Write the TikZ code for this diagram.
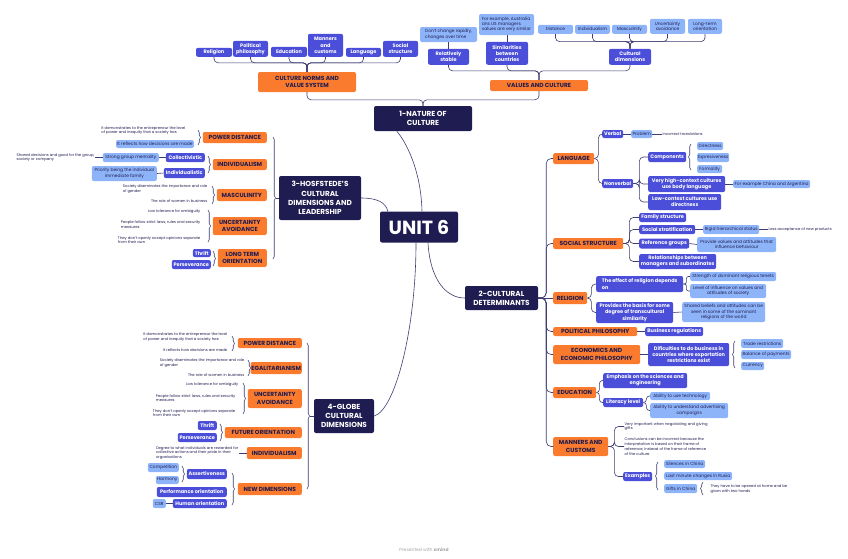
\documentclass[tikz,border=0pt]{standalone}
\usepackage{fontspec}
\setmainfont{Poppins}
\usetikzlibrary{decorations.pathreplacing}
\definecolor{navy}{HTML}{1E1C50}
\definecolor{orng}{HTML}{FA7A2E}
\definecolor{blu}{HTML}{4A4ED8}
\definecolor{lblu}{HTML}{8DB3F8}
\definecolor{lnk}{HTML}{3E3C70}
\begin{document}
\begin{tikzpicture}[x=1pt,y=-1pt,
  base/.style={rounded corners=2pt, inner sep=0.8pt, align=center},
  mainn/.style={base, fill=navy, text=white, font=\bfseries\fontsize{7.3}{9.2}\selectfont},
  unitn/.style={base, fill=navy, text=white, font=\bfseries\fontsize{19}{20}\selectfont},
  orn/.style={base, fill=orng, text=navy, font=\bfseries\fontsize{5.9}{7.2}\selectfont},
  bl/.style={base, fill=blu, text=white, font=\bfseries\fontsize{5}{6.2}\selectfont},
  lb/.style={base, fill=lblu, text=navy, font=\fontsize{4.4}{5.3}\selectfont},
  ptx/.style={inner sep=0.5pt, align=left, text=navy, font=\fontsize{3.75}{4.8}\selectfont},
  mw/.style={minimum width=#1pt}, mh/.style={minimum height=#1pt},
  conn/.style={draw=lnk, line width=0.6pt, rounded corners=4pt},
  brc/.style={draw=lnk, line width=0.6pt, decorate, decoration={brace, amplitude=2.5pt}},
]
\fill[white] (0,0) rectangle (848,558);
\useasboundingbox (0,0) rectangle (848,558);

% ---------- main topics ----------
\node[unitn, mw=78, mh=31] (unit) at (419,227) {UNIT 6};
\node[mainn, mw=98, mh=25] (nat) at (423,118.5) {1-NATURE OF\\CULTURE};
\node[mainn, mw=82, mh=44] (hof) at (320,198) {3-HOSFSTEDE’S\\CULTURAL\\DIMENSIONS AND\\LEADERSHIP};
\node[mainn, mw=73, mh=24] (det) at (501.5,298) {2-CULTURAL\\DETERMINANTS};
\node[mainn, mw=60, mh=34] (glo) at (344,416) {4-GLOBE\\CULTURAL\\DIMENSIONS};

\draw[conn] ([xshift=3pt]unit.north) .. controls (421,170) and (406,142) .. ([xshift=23pt]nat.south west);
\draw[conn] (hof.east) .. controls (378,198) and (386,203) .. ([xshift=8pt]unit.north west);
\draw[conn] ([xshift=9pt]unit.south) .. controls (430,278) and (445,298) .. (det.west);
\draw[conn] ([xshift=-3pt]unit.south) .. controls (416,330) and (395,410) .. (glo.east);

% ---------- top: nature of culture ----------
\node[orn, mw=98, mh=20] (cnv) at (307,82) {CULTURE NORMS AND\\VALUE SYSTEM};
\node[orn, mw=98, mh=11] (vac) at (539,85.5) {VALUES AND CULTURE};
\draw[conn] (nat.north) -- ++(0,-6) -| (cnv.south);
\draw[conn] (nat.north) -- ++(0,-6) -| (vac.south);

\node[bl, mw=36, mh=9, anchor=south] (rel1) at (214,57) {Religion};
\node[bl, mw=35, mh=16, anchor=south] (pol1) at (250.5,57) {Political\\philosophy};
\node[bl, mw=36, mh=10, anchor=south] (edu1) at (289,57) {Education};
\node[bl, mw=35, mh=23, anchor=south] (man1) at (325.5,57) {Manners\\and\\customs};
\node[bl, mw=35, mh=9, anchor=south] (lan1) at (363.5,57) {Language};
\node[bl, mw=35, mh=16, anchor=south] (soc1) at (400.5,57) {Social\\structure};
\foreach \c in {rel1,pol1,edu1,man1,lan1,soc1}
  \draw[conn] (cnv.north) -- ++(0,-9) -| (\c.south);

\node[bl, mw=41, mh=16, anchor=south] (rst) at (448.5,65) {Relatively\\stable};
\node[bl, mw=42, mh=23, anchor=south] (sbc) at (507,65) {Similarities\\between\\countries};
\node[bl, mw=42, mh=16, anchor=south] (cdm) at (630,65) {Cultural\\dimensions};
\foreach \c in {rst,sbc,cdm}
  \draw[conn] (vac.north) -- ++(0,-9) -| (\c.south);
\node[lb, mw=57, mh=15, align=left] (dcr) at (448.5,34.5) {Don't change rapidly,\\changes over time};
\node[lb, mw=55, mh=21, align=left] (fex) at (506.5,24.5) {For example, Australia\\ans US managers\\values are very similar};
\draw[conn] (rst.north) -- (dcr.south);
\draw[conn] (sbc.north) -- (sbc.north |- fex.south);

\node[lb, mw=35, mh=9, anchor=south] (dis) at (555.5,34) {Distance};
\node[lb, mw=35, mh=9, anchor=south] (ind0) at (592.5,34) {Individualism};
\node[lb, mw=35, mh=9, anchor=south] (mas0) at (629.5,34) {Masculinity};
\node[lb, mw=35, mh=15, anchor=south] (unc0) at (667.5,34) {Uncertainty\\avoidance};
\node[lb, mw=34, mh=15, anchor=south] (lto0) at (705,34) {Long-term\\orientation};
\foreach \c in {dis,ind0,mas0,unc0,lto0}
  \draw[conn] (cdm.north) -- ++(0,-7) -| (\c.south);

% ---------- left: Hofstede ----------
\node[orn, mw=64, mh=11, anchor=east] (pd) at (267,137.5) {POWER DISTANCE};
\node[orn, mw=54, mh=11, anchor=east] (ind) at (267,164.5) {INDIVIDUALISM};
\node[orn, mw=50, mh=12, anchor=east] (mas) at (267,195) {MASCULINITY};
\node[orn, mw=54, mh=18, anchor=east] (ua) at (267,226) {UNCERTAINTY\\AVOIDANCE};
\node[orn, mw=49, mh=18, anchor=east] (lto) at (267,258) {LONG TERM\\ORIENTATION};
\draw[brc] (273,137) -- (273,259);
\draw[conn] (275.5,198) -- (hof.west);

\node[ptx, anchor=east] (pdt1) at (186,130.5) {It demonstrates to the entrepreneur the level\\of power and inequity that a society has};
\node[lb, mw=78, mh=8] (pdt2) at (155,144) {It reflects how decisions are made};
\draw[brc] (198,130) -- (198,145);

\node[bl, mw=39, mh=9, anchor=east] (col) at (205,157.5) {Collectivistic};
\node[bl, mw=41, mh=10, anchor=east] (indv) at (205,173) {Individualistic};
\draw[brc] (208,156) -- (208,173);
\node[lb, mw=56, mh=9, anchor=east] (sgm) at (159,157.5) {Strong group mentality};
\node[ptx, anchor=east] (sgt) at (95,157.5) {Shared decisions and good for the group,\\society or company};
\node[lb, mw=65, mh=15, anchor=east] (pri) at (157,173.5) {Priority being the individual\\immediate family};
\draw[conn] (col.west) -- (sgm.east);
\draw[conn] (sgm.west) -- (sgt.east);
\draw[conn] (indv.west) -- (pri.east);

\node[ptx, anchor=east] (mt1) at (208,189) {Society diseminates the importance and role\\of gender};
\node[ptx, anchor=east] (mt2) at (208,201.5) {The role of women in business};
\draw[brc] (212,186) -- (212,204);

\node[ptx, anchor=east] (ut1) at (201,211.5) {Low tolerance for ambiguity};
\node[ptx, anchor=east] (ut2) at (201,224.5) {People follow strict laws, rules and security\\measures};
\node[ptx, anchor=east] (ut3) at (201,240) {They don't openly accept opinions separate\\from their own};
\draw[brc] (208,210) -- (208,242);

\node[bl, mw=18, mh=8, anchor=east] (thr1) at (211,253) {Thrift};
\node[bl, mw=39, mh=9, anchor=east] (per1) at (211,264.5) {Perseverance};
\draw[brc] (213,251) -- (213,266);

% ---------- left: GLOBE ----------
\node[orn, mw=64, mh=10, anchor=east] (gpd) at (302,343) {POWER DISTANCE};
\node[orn, mw=48, mh=12, anchor=east] (geg) at (302,368) {EGALITARIANISM};
\node[orn, mw=54, mh=19, anchor=east] (gua) at (302,398.5) {UNCERTAINTY\\AVOIDANCE};
\node[orn, mw=77, mh=11, anchor=east] (gfo) at (302,432.5) {FUTURE ORIENTATION};
\node[orn, mw=55, mh=12, anchor=east] (gin) at (302,453) {INDIVIDUALISM};
\node[orn, mw=64, mh=12, anchor=east] (gnd) at (302,489) {NEW DIMENSIONS};
\draw[brc] (307,343) -- (307,489);
\draw[conn] (309.5,416) -- (glo.west);

\node[ptx, anchor=east] (gp1) at (228,337) {It demonstrates to the entrepreneur the level\\of power and inequity that a society has};
\node[ptx, anchor=east] (gp2) at (228,350) {It reflects how decisions are made};
\draw[brc] (232,336) -- (232,351);

\node[ptx, anchor=east] (ge1) at (245,363) {Society diseminates the importance and role\\of gender};
\node[ptx, anchor=east] (ge2) at (245,375) {The role of women in business};
\draw[brc] (248,360) -- (248,376);

\node[ptx, anchor=east] (gu1) at (239,385) {Low tolerance for ambiguity};
\node[ptx, anchor=east] (gu2) at (236,398) {People follow strict laws, rules and security\\measures};
\node[ptx, anchor=east] (gu3) at (236,413) {They don't openly accept opinions separate\\from their own};
\draw[brc] (243,383) -- (243,414);

\node[bl, mw=19, mh=9, anchor=east] (thr2) at (217,425.5) {Thrift};
\node[bl, mw=39, mh=9, anchor=east] (per2) at (217,437.5) {Perseverance};
\draw[brc] (220,424) -- (220,441);

\node[ptx, anchor=east] (git) at (239,453) {Degree to what individuals are rewarded for\\collective actions and their pride in their\\organisations};
\draw[conn] (gin.west) -- (git.east);

\node[bl, mw=40, mh=10, anchor=east] (ass) at (227,474) {Assertiveness};
\node[bl, mw=70, mh=10, anchor=east] (pfo) at (227,492) {Performance orientation};
\node[bl, mw=54, mh=9, anchor=east] (hum) at (227,503.5) {Human orientation};
\draw[brc] (232,473) -- (232,505);
\node[lb, mw=31, mh=9, anchor=east] (cmp) at (179,467.5) {Competition};
\node[lb, mw=23, mh=8, anchor=east] (har) at (179,480) {Harmony};
\draw[brc] (182,466) -- (182,482);
\node[lb, mw=13, mh=9, anchor=east] (csr) at (166,503.5) {CSR};
\draw[conn] (hum.west) -- (csr.east);

% ---------- right: cultural determinants ----------
\node[orn, mw=41, mh=11, anchor=west] (lan) at (553,158.5) {LANGUAGE};
\node[orn, mw=70, mh=11, anchor=west] (soc) at (553,243.5) {SOCIAL STRUCTURE};
\node[orn, mw=34, mh=12, anchor=west] (rel) at (553,298) {RELIGION};
\node[orn, mw=84, mh=9, anchor=west] (pol) at (553,331.5) {POLITICAL PHILOSOPHY};
\node[orn, mw=87, mh=19, anchor=west] (eco) at (553,354.5) {ECONOMICS AND\\ECONOMIC PHILOSOPHY};
\node[orn, mw=43, mh=11, anchor=west] (edu) at (553,392.5) {EDUCATION};
\node[orn, mw=55, mh=19, anchor=west] (mnc) at (553,446.5) {MANNERS AND\\CUSTOMS};
\foreach \c in {lan,soc,pol,eco,edu,mnc}
  \draw[conn, rounded corners=5pt] (det.east) -- ([xshift=8pt]det.east) |- (\c.west);
\draw[conn] (det.east) -- (rel.west);

% language
\node[bl, mw=21, mh=8, anchor=west] (vrb) at (602,134) {Verbal};
\node[bl, mw=31, mh=9, anchor=west] (nvb) at (602,183.5) {Nonverbal};
\foreach \c in {vrb,nvb}
  \draw[conn] (lan.east) -- ++(4,0) |- (\c.west);
\node[lb, mw=21, mh=8, anchor=west] (prb) at (631,134) {Problem};
\node[ptx, anchor=west] (inc) at (662,134) {Incorrect translations};
\draw[conn] (vrb.east) -- (prb.west);
\draw[conn] (prb.east) -- (inc.west);
\node[bl, mw=38, mh=10, anchor=west] (cmpn) at (648,157) {Components};
\node[bl, mw=77, mh=16, anchor=west] (vhc) at (648,184) {Very high-context cultures\\use body language};
\node[bl, mw=73, mh=16, anchor=west] (lcc) at (648,202) {Low-context cultures use\\directness};
\foreach \c in {cmpn,vhc,lcc}
  \draw[conn] (nvb.east) -- ++(6,0) |- (\c.west);
\draw[brc] (691,170) -- (691,144);
\node[lb, mw=26, mh=8, anchor=west] (dir) at (697,146) {Directness};
\node[lb, mw=26, mh=9, anchor=west] (exp) at (697,157.5) {Expresiveness};
\node[lb, mw=25, mh=8, anchor=west] (frm) at (697,169) {Formality};
\node[lb, mw=77, mh=8, anchor=west] (fec) at (733,184) {For example China and Argentina};
\draw[conn] (vhc.east) -- (fec.west);

% social structure
\node[bl, mw=47, mh=9, anchor=west] (fam) at (639,217.5) {Family structure};
\node[bl, mw=56, mh=9, anchor=west] (sst) at (639,229.5) {Social stratification};
\node[bl, mw=50, mh=10, anchor=west] (rfg) at (639,243.5) {Reference groups};
\node[bl, mw=77, mh=15, anchor=west] (rbm) at (639,261.5) {Relationships between\\managers and subordinates};
\foreach \c in {fam,sst,rfg,rbm}
  \draw[conn] (soc.east) -- ++(6,0) |- (\c.west);
\node[lb, mw=56, mh=9, anchor=west] (rhs) at (703,229.5) {Rigid hierarchical status};
\node[ptx, anchor=west] (lac) at (768,229.5) {Less acceptance of new products};
\node[lb, mw=79, mh=15, anchor=west] (pva) at (697,244.5) {Provide values and attitudes that\\influence behaviour};
\draw[conn] (sst.east) -- (rhs.west);
\draw[conn] (rhs.east) -- (lac.west);
\draw[conn] (rfg.east) -- (pva.west);

% religion
\node[bl, mw=87, mh=16, anchor=west, align=left] (eff) at (596,284) {The effect of religion depends\\on};
\node[bl, mw=77, mh=21, anchor=west] (pbs) at (596,312.5) {Provides the basis for some\\degree of transcultural\\similarity};
\foreach \c in {eff,pbs}
  \draw[conn] (rel.east) -- ++(4,0) |- (\c.west);
\node[lb, mw=86, mh=9, anchor=west] (sdr) at (690,276.5) {Strength of dominant religious tenets};
\node[lb, mw=76, mh=14, anchor=west] (liv) at (690,291) {Level of influence on values and\\attitudes of society};
\foreach \c in {sdr,liv}
  \draw[conn, rounded corners=2pt] (eff.east) -- ++(3,0) |- (\c.west);
\node[lb, mw=83, mh=20, anchor=west] (sba) at (682,312) {Shared beliefs and attitudes can be\\seen in some of the sominant\\religions of the world};
\draw[conn] (pbs.east) -- (sba.west);

% political philosophy
\node[bl, mw=58, mh=9, anchor=west] (bre) at (645,331.5) {Business regulations};
\draw[conn] (pol.east) -- (bre.west);

% economics
\node[bl, mw=81, mh=23, anchor=west] (dif) at (648,354.5) {Dificulties to do business in\\countries where exportation\\restrictions exist};
\draw[conn] (eco.east) -- (dif.west);
\draw[brc] (735,368) -- (735,341);
\node[lb, mw=42, mh=9, anchor=west] (trd) at (741,343.5) {Trade restrictions};
\node[lb, mw=50, mh=9, anchor=west] (bop) at (741,354.5) {Balance of payments};
\node[lb, mw=23, mh=8, anchor=west] (cur) at (741,366) {Currency};

% education
\node[bl, mw=84, mh=15, anchor=west] (emp) at (603,380.5) {Emphasis on the sciences and\\engineering};
\node[bl, mw=40, mh=9, anchor=west] (lit) at (603,402.5) {Literacy level};
\foreach \c in {emp,lit}
  \draw[conn, rounded corners=3pt] (edu.east) -- ++(3,0) |- (\c.west);
\node[lb, mw=60, mh=8, anchor=west] (aut) at (650,396) {Ability to use technology};
\node[lb, mw=78, mh=15, anchor=west] (aua) at (650,410.5) {Ability to understand advertising\\campaigns};
\foreach \c in {aut,aua}
  \draw[conn, rounded corners=3pt] (lit.east) -- ++(3,0) |- (\c.west);

% manners and customs
\node[ptx, anchor=west] (vim) at (624,426.5) {Very important when negotiating and giving\\gifts};
\node[ptx, anchor=west] (ccb) at (624,446.5) {Conclusions can be incorrect because the\\interpretation is based on their frame of\\reference, instead of the frame of reference\\of the culture};
\node[bl, mw=29, mh=9, anchor=west] (exa) at (623,476.5) {Examples};
\foreach \c in {vim,ccb,exa}
  \draw[conn] (mnc.east) -- ++(6,0) |- (\c.west);
\draw[brc] (658,490) -- (658,462);
\node[lb, mw=41, mh=8, anchor=west] (sic) at (664,464) {Silences in China};
\node[lb, mw=68, mh=8, anchor=west] (lmc) at (664,476) {Last minute changes in Rusia};
\node[lb, mw=33, mh=9, anchor=west] (gic) at (664,488.5) {Gifts in China};
\draw[brc] (703,495) -- (703,482);
\node[ptx, anchor=west] (tho) at (710,489) {They have to be opened at home and be\\given with two hands};

% footer
\node[font=\fontsize{4.5}{5}\selectfont, text=black!35] (ftr) at (424,549.5) {Presented with \textbf{xmind}};
\end{tikzpicture}
\end{document}
